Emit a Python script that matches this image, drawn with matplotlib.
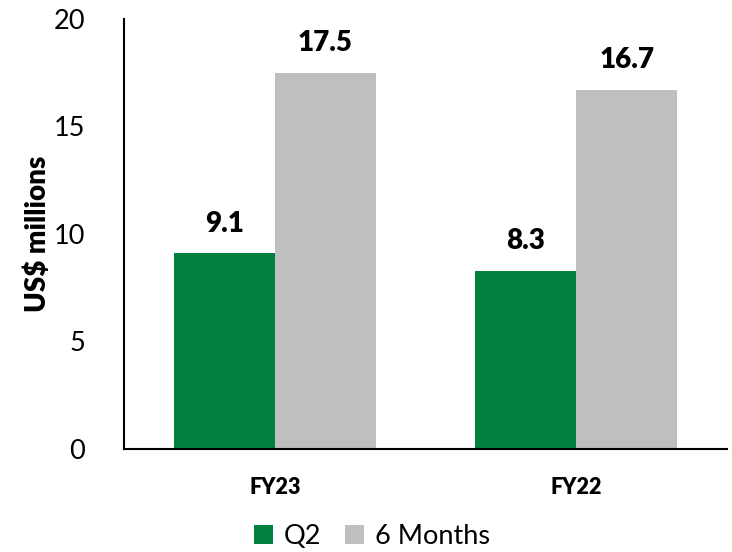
import numpy as np
import matplotlib.pyplot as plt

plt.rcParams['font.family'] = ['Lato', 'DejaVu Sans']

categories = ["FY23", "FY22"]
series = ["Q2", "6 Months"]
q2 = [9.1, 8.3]
six_months = [17.5, 16.7]
colors = ["#008140", "#BFBFBF"]

fig = plt.figure(figsize=(7.32, 5.52), dpi=100)
ax = fig.add_axes([0.1694, 0.1866, 0.8238, 0.779])

x = np.arange(len(categories))
w = 0.335
for vals, off, name, c in zip([q2, six_months], [-w / 2, w / 2], series, colors):
    bars = ax.bar(x + off, vals, w, color=c, label=name)
    for b, v in zip(bars, vals):
        ax.annotate(f"{v:.1f}", (b.get_x() + b.get_width() / 2, v),
                    xytext=(0, 12), textcoords="offset points",
                    ha="center", va="bottom", fontsize=20, fontweight="heavy")

ax.set_xlim(-0.5, 1.5)
ax.set_ylim(0, 20)
ax.set_yticks([0, 5, 10, 15, 20])
ax.set_xticks(x)
ax.set_xticklabels(categories, fontsize=15.5, fontweight="heavy")
ax.tick_params(axis="y", length=0, labelsize=19.5, pad=28)
ax.tick_params(axis="x", length=0, pad=20)
ax.set_ylabel("US$ millions", fontsize=20, fontweight="heavy", labelpad=2)

for s in ["top", "right"]:
    ax.spines[s].set_visible(False)
for s in ["left", "bottom"]:
    ax.spines[s].set_linewidth(1.5)

fig.legend(loc="center", bbox_to_anchor=(372 / 732, 1 - 536 / 552), ncol=2,
           frameon=False, fontsize=19.5, handlelength=0.7, handleheight=0.7,
           handletextpad=0.4, columnspacing=0.9)

fig.savefig("out.png", dpi=100)
